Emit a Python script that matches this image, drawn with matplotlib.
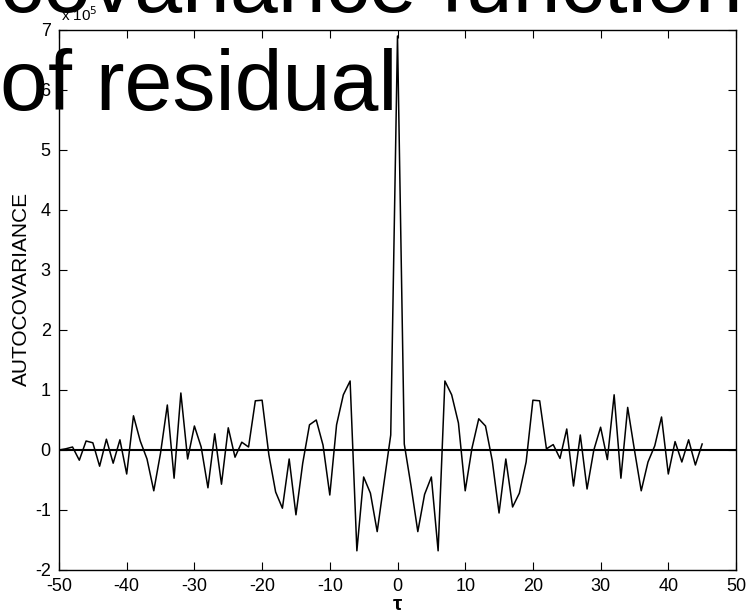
import matplotlib
matplotlib.use("Agg")
import matplotlib.pyplot as plt

# =========================
# Daten (Autokovarianz in Einheiten von 1e5)
# =========================
lags = list(range(-50, 46))
acov = [
    0.00, 0.02, 0.05, -0.17, 0.15, 0.12, -0.27, 0.18, -0.22, 0.17,    # -50..-41
    -0.40, 0.57, 0.15, -0.15, -0.68, -0.05, 0.75, -0.47, 0.95, -0.15,  # -40..-31
    0.40, 0.05, -0.63, 0.27, -0.57, 0.37, -0.12, 0.13, 0.05, 0.82,     # -30..-21
    0.83, -0.08, -0.70, -0.97, -0.15, -1.08, -0.22, 0.42, 0.50, 0.08,  # -20..-11
    -0.75, 0.42, 0.92, 1.15, -1.68, -0.45, -0.72, -1.36, -0.55, 0.25,  # -10..-1
    6.90,                                                              # 0
    0.10, -0.60, -1.36, -0.74, -0.45, -1.68, 1.15, 0.92, 0.45, -0.68,  # 1..10
    0.03, 0.52, 0.40, -0.18, -1.05, -0.15, -0.95, -0.72, -0.20, 0.83,  # 11..20
    0.82, 0.02, 0.09, -0.14, 0.35, -0.60, 0.25, -0.65, 0.00, 0.38,     # 21..30
    -0.16, 0.92, -0.47, 0.71, 0.00, -0.68, -0.20, 0.07, 0.55, -0.40,   # 31..40
    0.14, -0.20, 0.17, -0.25, 0.10,                                    # 41..45
]

x_ticks = list(range(-50, 51, 10))
y_ticks = list(range(-2, 8))

plt.rcParams["font.family"] = ["Liberation Sans", "DejaVu Sans"]

fig = plt.figure(figsize=(7.51, 6.15), dpi=100)
ax = fig.add_axes([59 / 751, 45 / 615, 677 / 751, 540 / 615])

ax.plot(lags, acov, color="black", linewidth=1.1)
ax.axhline(0, color="black", linewidth=1.5)

ax.set_xlim(-50, 50)
ax.set_ylim(-2, 7)
ax.set_xticks(x_ticks)
ax.set_yticks(y_ticks)
ax.set_xticklabels([str(t) for t in x_ticks])
ax.set_yticklabels([str(t) for t in y_ticks])
ax.tick_params(direction="in", top=True, right=True, length=6, width=0.8,
               labelsize=13, pad=6)
for sp in ax.spines.values():
    sp.set_linewidth(1.0)

ax.set_ylabel("AUTOCOVARIANCE", fontsize=15)
ax.yaxis.set_label_coords(-0.042, 0.52)
ax.set_xlabel("τ", fontsize=15, fontweight="bold", labelpad=0)

fig.text(61 / 751, 1 - 21 / 615, "x 10$^5$", fontsize=11, ha="left", va="baseline")

# grosser Titel, ragt oben aus dem Bild
fig.text(0, 1 - 12 / 615, "covariance function", fontsize=62, ha="left", va="baseline")
fig.text(0, 1 - 110 / 615, "of residual", fontsize=62, ha="left", va="baseline")

fig.savefig("out.png", dpi=100)
